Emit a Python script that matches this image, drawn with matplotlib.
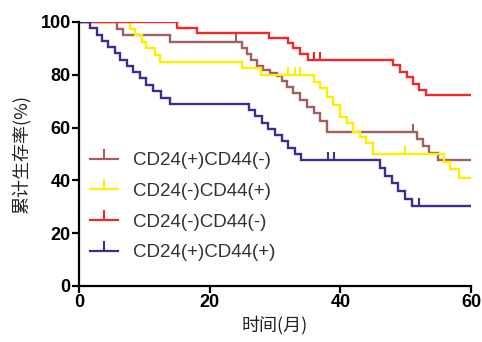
import numpy as np
import matplotlib
matplotlib.use('Agg')
import matplotlib.pyplot as plt
from matplotlib.lines import Line2D
from matplotlib.legend_handler import HandlerLine2D

# step data: event times (months) and survival (%) after each step
brown_t = [0, 5.8, 6.8, 13.9, 24.9, 25.7, 26.4, 27.2, 28.2, 29.2, 30.3, 31.0, 31.8, 32.8, 33.8, 34.9, 35.9, 36.9, 37.9, 51.8, 52.6, 53.6, 55.0, 60]
brown_s = [100, 97.5, 95.0, 92.5, 90.0, 87.8, 85.6, 83.4, 81.8, 80.6, 79.5, 77.8, 75.5, 73.0, 70.5, 67.9, 65.4, 62.5, 58.2, 55.5, 53.0, 50.5, 47.7, 47.7]
brown_cens = [24.0, 51.1]

yellow_t = [0, 7.8, 8.6, 9.6, 10.3, 11.6, 12.4, 24.9, 27.9, 35.9, 36.9, 37.9, 38.9, 39.9, 41.0, 42.0, 43.0, 44.0, 45.0, 55.8, 56.8, 58.1, 60]
yellow_s = [100, 97.5, 95.0, 92.5, 90.0, 87.5, 85.0, 82.4, 80.0, 77.4, 75.0, 71.7, 68.6, 64.0, 61.6, 58.5, 56.6, 54.0, 50.0, 47.0, 44.2, 40.8, 40.8]
yellow_cens = [32.0, 33.0, 33.8, 49.9]

red_t = [0, 15.0, 18.0, 29.1, 32.0, 32.8, 33.8, 35.0, 48.0, 49.1, 50.2, 51.1, 52.1, 53.1, 60]
red_s = [100, 97.8, 95.7, 93.8, 91.9, 90.0, 88.0, 85.5, 83.7, 81.2, 79.0, 76.4, 74.2, 72.3, 72.3]
red_cens = [36.0, 36.9]

blue_t = [0, 1.7, 2.7, 3.5, 4.5, 5.5, 6.3, 7.3, 8.3, 9.3, 10.3, 11.3, 12.5, 14.0,
          26.0, 27.0, 28.0, 29.0, 30.0, 31.0, 32.0, 33.0, 34.0,
          46.0, 46.8, 47.9, 48.9, 49.9, 50.9, 60]
blue_s = [100, 97.6, 95.2, 92.9, 90.5, 88.1, 85.7, 83.3, 81.0, 78.6, 76.2, 73.8, 71.4, 69.0,
          66.7, 64.3, 61.9, 59.5, 57.1, 54.8, 52.4, 50.0, 47.6,
          44.7, 41.8, 38.9, 36.0, 33.1, 30.2, 30.2]
blue_cens = [38.1, 39.0, 52.0]

labels = ['CD24(+)CD44(-)', 'CD24(-)CD44(+)', 'CD24(-)CD44(-)', 'CD24(+)CD44(+)']
colors = ['#a0605f', '#ffee00', '#f02828', '#3a2f8c']

xticks = [0, 20, 40, 60]
yticks = [0, 20, 40, 60, 80, 100]

series = [(brown_t, brown_s, brown_cens), (yellow_t, yellow_s, yellow_cens),
          (red_t, red_s, red_cens), (blue_t, blue_s, blue_cens)]


class TickHandler(HandlerLine2D):
    # line with a small upward tick in the middle, like the censor marks
    def create_artists(self, legend, orig_handle, xdescent, ydescent, width, height, fontsize, trans):
        y = height / 2 - ydescent
        line = Line2D([-xdescent, -xdescent + width], [y, y], color=orig_handle.get_color(),
                      lw=1.6, transform=trans)
        tick = Line2D([-xdescent + width / 2], [y], color=orig_handle.get_color(),
                      marker=2, markersize=7, mew=1.5, linestyle='none', transform=trans)
        return [line, tick]


fig = plt.figure(figsize=(4.82, 3.42), dpi=100)
ax = fig.add_axes([79 / 482, 1 - 286 / 342, 392 / 482, 264 / 342])

for (t, s, cens), lab, c in zip(series, labels, colors):
    ax.step(t, s, where='post', color=c, lw=1.7, label=lab, solid_joinstyle='miter')
    # censor ticks sit on the curve
    idx = np.searchsorted(t, cens, side='right') - 1
    ax.plot(cens, np.array(s)[idx], linestyle='none', marker=2, color=c,
            markersize=6, mew=1.5)

handles = [Line2D([0, 1], [0, 0], color=c, lw=1.6) for c in colors]
leg = ax.legend(handles, labels, loc='center left', bbox_to_anchor=(0.028, 0.30),
                frameon=False, borderpad=0, borderaxespad=0, handlelength=1.5,
                handletextpad=0.8, labelspacing=0.72,
                handler_map={Line2D: TickHandler()},
                prop={'family': 'Liberation Sans', 'size': 13.5})
for txt in leg.get_texts():
    txt.set_color('#333333')

ax.set_xlim(0, 60)
ax.set_ylim(0, 100)
ax.set_xticks(xticks)
ax.set_yticks(yticks)
ax.set_xticklabels([str(v) for v in xticks], fontfamily='Liberation Sans', fontweight='bold', fontsize=13)
ax.set_yticklabels([str(v) for v in yticks], fontfamily='Liberation Sans', fontweight='bold', fontsize=13)
ax.tick_params(direction='out', length=5, width=1.6, pad=1, colors='black')

for side in ['top', 'right']:
    ax.spines[side].set_visible(False)
for side in ['left', 'bottom']:
    ax.spines[side].set_linewidth(1.6)

ax.set_xlabel('时间(月)', fontfamily=['Noto Sans CJK SC', 'DejaVu Sans'], fontsize=13, labelpad=3, color='#222222')
ax.set_ylabel('累计生存率(%)', fontfamily=['Noto Sans CJK SC', 'DejaVu Sans'], fontsize=13, labelpad=6, color='#222222')

fig.savefig('out.png', dpi=100)
